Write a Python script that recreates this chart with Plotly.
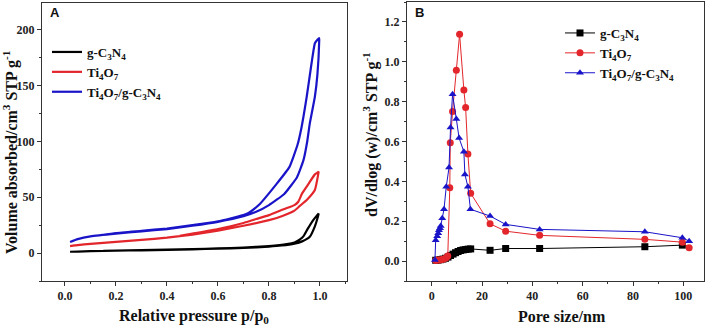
import plotly.graph_objects as go

# ---------- Panel A: N2 adsorption-desorption isotherms ----------
gcn_ads_p = [0.02, 0.05, 0.1, 0.2, 0.3, 0.4, 0.5, 0.6, 0.7, 0.8, 0.85, 0.9, 0.93, 0.96, 0.98, 0.99, 0.995]
gcn_ads_v = [1.2, 1.4, 1.7, 2.1, 2.5, 2.9, 3.4, 3.9, 4.6, 5.8, 6.8, 8.5, 10.5, 14.6, 24, 31, 35.5]
gcn_des_p = [0.995, 0.975, 0.95, 0.935, 0.92, 0.9, 0.87, 0.8, 0.7, 0.6, 0.5, 0.4, 0.3, 0.2, 0.15]
gcn_des_v = [35.5, 30, 21, 15, 12, 9.5, 8, 6.3, 5, 4.2, 3.6, 3.1, 2.6, 2.2, 1.9]

ti_ads_p = [0.02, 0.05, 0.1, 0.2, 0.3, 0.4, 0.5, 0.6, 0.7, 0.8, 0.85, 0.9, 0.92, 0.95, 0.98, 0.995]
ti_ads_v = [6.3, 7.2, 8.3, 10, 11.8, 13.8, 16.5, 20, 24.5, 29.5, 33, 38, 42, 48, 56.5, 73]
ti_des_p = [0.995, 0.98, 0.955, 0.93, 0.915, 0.9, 0.86, 0.8, 0.75, 0.7, 0.6, 0.5, 0.45]
ti_des_v = [73, 70.5, 62, 53.5, 46, 43, 39.5, 34, 30.5, 27, 21.5, 17.5, 15.5]

tg_ads_p = [0.02, 0.05, 0.1, 0.2, 0.3, 0.4, 0.5, 0.6, 0.7, 0.75, 0.8, 0.86, 0.91, 0.935, 0.95, 0.96, 0.98, 0.99, 0.997]
tg_ads_v = [10, 12.5, 15, 17.5, 19.5, 21.5, 24.5, 28, 33, 37, 43, 53, 68, 83, 100, 116, 140, 160, 190]
tg_des_p = [0.997, 0.99, 0.98, 0.967, 0.948, 0.928, 0.912, 0.88, 0.83, 0.76, 0.72, 0.7, 0.6, 0.5, 0.4, 0.3, 0.2, 0.14]
tg_des_v = [192.5, 191, 188, 170, 140, 113, 97, 77, 62, 43, 36, 34, 28.5, 25, 22, 20, 18, 16]

# ---------- Panel B: pore size distribution ----------
gcn_d = [1.6, 2.5, 3.5, 4.5, 5.5, 6.5, 7.5, 8.5, 9.5, 10.5, 11.5, 12.5, 13.5, 14.5, 15.5, 23.2, 29.4, 42.9, 84.7, 99.6]
gcn_dv = [0.004, 0.005, 0.007, 0.01, 0.014, 0.02, 0.028, 0.035, 0.042, 0.048, 0.053, 0.056, 0.058, 0.06, 0.061, 0.054, 0.063, 0.063, 0.072, 0.08]

ti_d = [1.6, 2.5, 3.3, 4.2, 5.0, 5.8, 6.4, 7.2, 7.4, 8.3, 9.8, 11.1, 12.8, 13.5, 14.4, 15.5, 23.2, 29.4, 42.9, 84.7, 99.6, 102.3]
ti_dv = [0.003, 0.005, 0.006, 0.008, 0.012, 0.017, 0.025, 0.368, 0.594, 0.75, 0.957, 1.138, 0.858, 0.77, 0.537, 0.34, 0.187, 0.15, 0.129, 0.109, 0.095, 0.067]

tg_d = [1.3, 1.6, 2.2, 2.6, 2.9, 3.3, 3.6, 4.2, 4.9, 5.8, 6.9, 7.5, 8.3, 9.8, 10.9, 12.8, 13.2, 14.4, 15.4, 23.2, 29.4, 42.9, 84.7, 99.6, 102.3]
tg_dv = [0.005, 0.105, 0.125, 0.14, 0.155, 0.165, 0.176, 0.215, 0.26, 0.373, 0.469, 0.67, 0.837, 0.713, 0.617, 0.549, 0.435, 0.373, 0.26, 0.226, 0.184, 0.159, 0.147, 0.117, 0.1]

names = ["g-C<sub>3</sub>N<sub>4</sub>", "Ti<sub>4</sub>O<sub>7</sub>", "Ti<sub>4</sub>O<sub>7</sub>/g-C<sub>3</sub>N<sub>4</sub>"]
colors = ["#000000", "#e3262b", "#1a14c8"]
symbols = ["square", "circle", "triangle-up"]

SERIF = "Liberation Serif, Times New Roman, serif"
fig = go.Figure()

isos = [(gcn_ads_p + gcn_des_p, gcn_ads_v + gcn_des_v),
        (ti_ads_p + ti_des_p, ti_ads_v + ti_des_v),
        (tg_ads_p + tg_des_p, tg_ads_v + tg_des_v)]
for (px, pv), nm, c in zip(isos, names, colors):
    fig.add_trace(go.Scatter(x=px, y=pv, mode="lines", name=nm,
                             line=dict(color=c, width=2.2, shape="spline", smoothing=0.4),
                             xaxis="x", yaxis="y", legend="legend"))

psd = [(gcn_d, gcn_dv), (ti_d, ti_dv), (tg_d, tg_dv)]
for (dd, dv), nm, c, s in zip(psd, names, colors, symbols):
    fig.add_trace(go.Scatter(x=dd, y=dv, mode="lines+markers", name=nm,
                             line=dict(color=c, width=1),
                             marker=dict(symbol=s, size=7, color=c),
                             xaxis="x2", yaxis="y2", legend="legend2"))

W, H = 708, 332
ydom = [1 - 281 / H, 1 - 3 / H]
tick_font = dict(family=SERIF, size=12, color="#222222", weight="bold")
legend_font = dict(family=SERIF, size=13, color="#111111", weight="bold")
axis_common = dict(showline=True, linecolor="#333333", linewidth=1, mirror=True,
                   ticks="outside", ticklen=4, tickcolor="#333333", showgrid=False, zeroline=False,
                   tickfont=tick_font)
fig.update_layout(
    width=W, height=H, margin=dict(l=0, r=0, t=0, b=0),
    paper_bgcolor="white", plot_bgcolor="white",
    xaxis=dict(domain=[42 / W, 347 / W], range=[-0.09, 1.106], tickvals=[0, 0.2, 0.4, 0.6, 0.8, 1.0],
               ticktext=["0.0", "0.2", "0.4", "0.6", "0.8", "1.0"],
               minor=dict(ticks="outside", ticklen=2, dtick=0.1, tickcolor="#333333"), anchor="y", **axis_common),
    yaxis=dict(domain=ydom, range=[-25, 224], tickvals=[0, 50, 100, 150, 200],
               ticktext=["0", "50", "100", "150", "200"],
               minor=dict(ticks="outside", ticklen=2, dtick=25, tickcolor="#333333"), anchor="x", **axis_common),
    xaxis2=dict(domain=[407 / W, 704 / W], range=[-9.8, 108.2], tickvals=[0, 20, 40, 60, 80, 100],
                ticktext=["0", "20", "40", "60", "80", "100"],
                minor=dict(ticks="outside", ticklen=2, dtick=10, tickcolor="#333333"), anchor="y2", **axis_common),
    yaxis2=dict(domain=[1 - 281 / H, 1 - 2 / H], range=[-0.1, 1.3], tickvals=[0, 0.2, 0.4, 0.6, 0.8, 1.0, 1.2],
                ticktext=["0.0", "0.2", "0.4", "0.6", "0.8", "1.0", "1.2"],
                minor=dict(ticks="outside", ticklen=2, dtick=0.1, tickcolor="#333333"), anchor="x2", **axis_common),
    legend=dict(x=47 / W, y=1 - 37 / H, xanchor="left", yanchor="top", bgcolor="rgba(0,0,0,0)",
                font=legend_font, itemwidth=30, tracegroupgap=0),
    legend2=dict(x=560 / W, y=1 - 18 / H, xanchor="left", yanchor="top", bgcolor="rgba(0,0,0,0)",
                 font=legend_font, itemwidth=30, tracegroupgap=0),
    showlegend=True,
)

title_font = dict(family=SERIF, size=16, color="#111111")
fig.add_annotation(text="<b>Relative pressure p/p<sub>0</sub></b>", xref="paper", yref="paper",
                   x=194 / W, y=1 - 316 / H, showarrow=False, font=title_font, xanchor="center", yanchor="middle")
fig.add_annotation(text="<b>Pore size/nm</b>", xref="paper", yref="paper",
                   x=562 / W, y=1 - 316 / H, showarrow=False, font=title_font, xanchor="center", yanchor="middle")
fig.add_annotation(text="<b>Volume absorbed/cm<sup>3</sup> STP g<sup>-1</sup></b>", xref="paper", yref="paper",
                   x=11 / W, y=1 - 152 / H, showarrow=False, font=title_font, textangle=-90,
                   xanchor="center", yanchor="middle")
fig.add_annotation(text="<b>dV/dlog (w)/cm<sup>3</sup> STP g<sup>-1</sup></b>", xref="paper", yref="paper",
                   x=371 / W, y=1 - 135 / H, showarrow=False, font=title_font, textangle=-90,
                   xanchor="center", yanchor="middle")
fig.add_annotation(text="<b>A</b>", xref="paper", yref="paper", x=48 / W, y=1 - 12 / H, showarrow=False,
                   font=dict(family="Liberation Sans, Arial, sans-serif", size=13, color="#111111"),
                   xanchor="left", yanchor="middle")
fig.add_annotation(text="<b>B</b>", xref="paper", yref="paper", x=413 / W, y=1 - 12 / H, showarrow=False,
                   font=dict(family="Liberation Sans, Arial, sans-serif", size=13, color="#111111"),
                   xanchor="left", yanchor="middle")

fig.write_html("out.html", config={"displayModeBar": False},
               post_script="document.body.style.margin='0';document.body.style.overflow='hidden';")
